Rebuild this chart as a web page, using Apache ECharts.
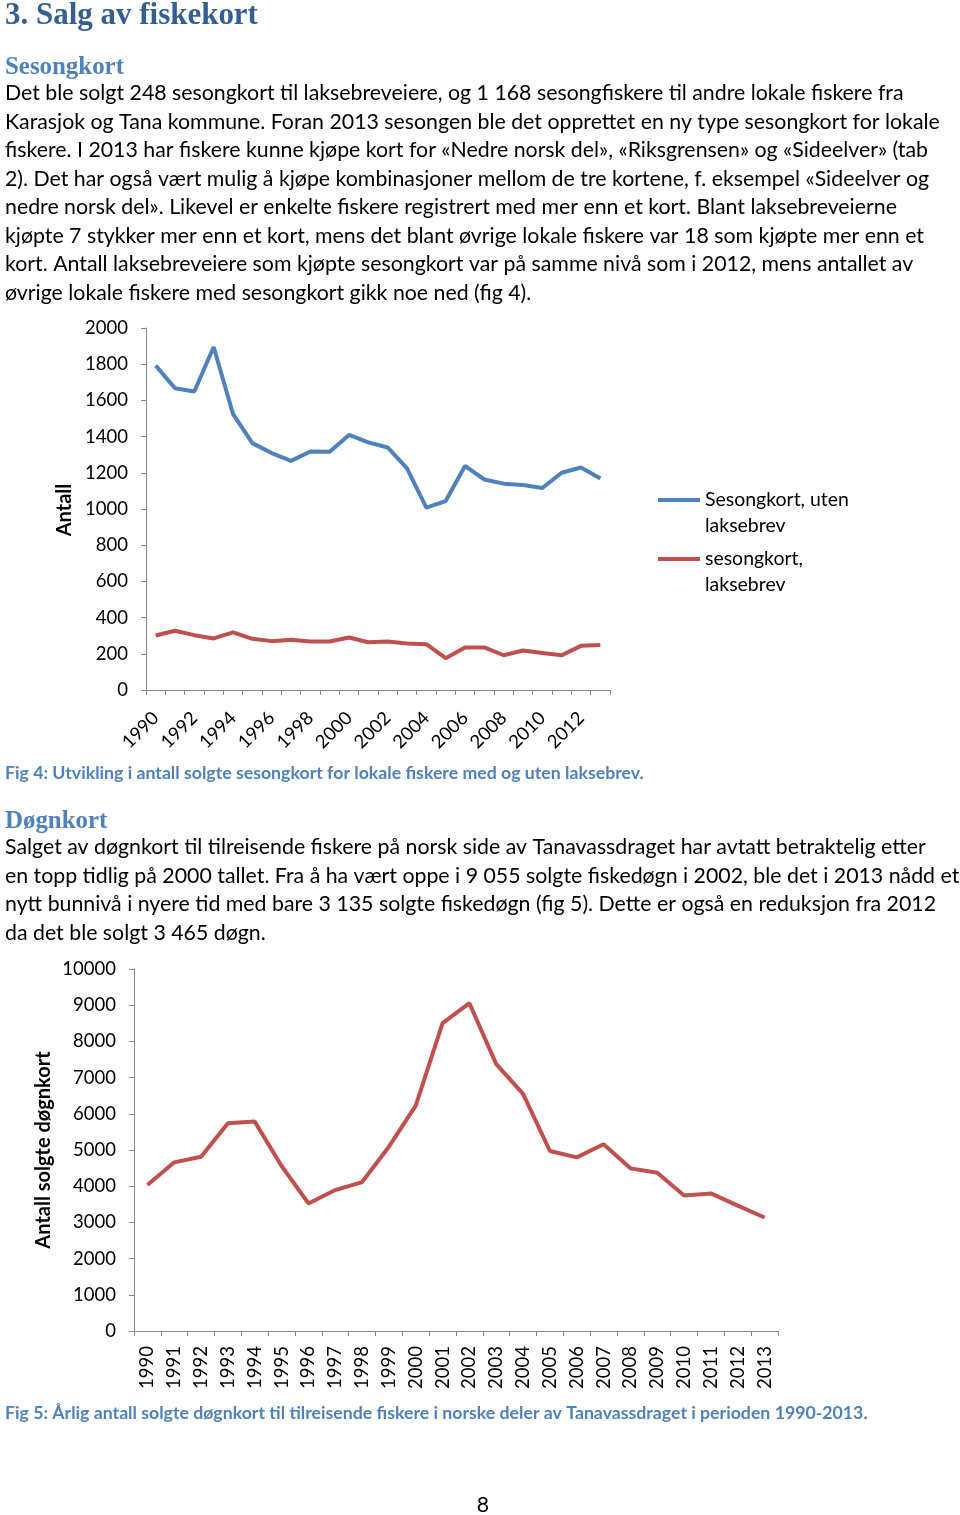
<!DOCTYPE html>
<html><head><meta charset="utf-8">
<script src="https://cdn.jsdelivr.net/npm/echarts@6/dist/echarts.min.js"></script>
<style>html,body{margin:0;padding:0;background:#fff}#c{width:960px;height:1515px}</style>
</head><body><div id="c"></div>
<script>
// ---------- data ----------
const years = ['1990','1991','1992','1993','1994','1995','1996','1997','1998','1999','2000','2001',
  '2002','2003','2004','2005','2006','2007','2008','2009','2010','2011','2012','2013'];
const utenLaksebrev = [1793,1667,1649,1895,1525,1364,1309,1266,1318,1316,1409,1368,
  1340,1224,1007,1044,1238,1163,1140,1133,1116,1200,1229,1168];
const medLaksebrev = [301,327,303,285,318,283,270,277,268,268,290,264,
  268,257,253,176,235,235,192,218,205,192,244,248];
const dognkort = [4031,4659,4815,5738,5784,4557,3524,3893,4114,5092,6227,8506,
  9055,7371,6550,4972,4797,5157,4493,4373,3745,3801,3465,3135];
const seriesNames = ['Sesongkort, uten\nlaksebrev', 'sesongkort,\nlaksebrev'];
const axisTitle1 = 'Antall';
const axisTitle2 = 'Antall solgte døgnkort';

const heading = '3. Salg av fiskekort';
const sub1 = 'Sesongkort';
const body1 = [
 'Det ble solgt 248 sesongkort til laksebreveiere, og 1 168 sesongfiskere til andre lokale fiskere fra',
 'Karasjok og Tana kommune. Foran 2013 sesongen ble det opprettet en ny type sesongkort for lokale',
 'fiskere. I 2013 har fiskere kunne kjøpe kort for «Nedre norsk del», «Riksgrensen» og «Sideelver» (tab',
 '2). Det har også vært mulig å kjøpe kombinasjoner mellom de tre kortene, f. eksempel «Sideelver og',
 'nedre norsk del». Likevel er enkelte fiskere registrert med mer enn et kort. Blant laksebreveierne',
 'kjøpte 7 stykker mer enn et kort, mens det blant øvrige lokale fiskere var 18 som kjøpte mer enn et',
 'kort. Antall laksebreveiere som kjøpte sesongkort var på samme nivå som i 2012, mens antallet av',
 'øvrige lokale fiskere med sesongkort gikk noe ned (fig 4).'
];
const caption1 = 'Fig 4: Utvikling i antall solgte sesongkort for lokale fiskere med og uten laksebrev.';
const sub2 = 'Døgnkort';
const body2 = [
 'Salget av døgnkort til tilreisende fiskere på norsk side av Tanavassdraget har avtatt betraktelig etter',
 'en topp tidlig på 2000 tallet. Fra å ha vært oppe i 9 055 solgte fiskedøgn i 2002, ble det i 2013 nådd et',
 'nytt bunnivå i nyere tid med bare 3 135 solgte fiskedøgn (fig 5). Dette er også en reduksjon fra 2012',
 'da det ble solgt 3 465 døgn.'
];
const caption2 = 'Fig 5: Årlig antall solgte døgnkort til tilreisende fiskere i norske deler av Tanavassdraget i perioden 1990-2013.';
const pageNo = '8';

// ---------- layout helpers ----------
const SANS = 'Lato';
const SERIF = '"Liberation Serif"';
const mctx = document.createElement('canvas').getContext('2d');
function fitSize(text, family, weight, target) {
  mctx.font = weight + ' 100px ' + family;
  return 100 * target / mctx.measureText(text).width;
}
const bodySize = fitSize(body2[1], SANS, 'normal', 955);
const capSize = fitSize(caption2, SANS, 'bold', 863);
const headSize = fitSize(heading, SERIF, 'bold', 253);
const subSize = fitSize(sub1, SERIF, 'bold', 119);
const legSize = fitSize('Sesongkort, uten', SANS, 'normal', 144);

const BLUE_DARK = '#365F91', BLUE = '#4F81BD', RED = '#C0504D', AX = '#868686';

function txt(text, x, y, font, fill, align) {
  return {type:'text', x:x, y:y, silent:true,
    style:{text:text, font:font, fill:fill, align:align||'left', verticalAlign:'middle'}};
}
const graphics = [];
graphics.push(txt(heading, 5, 16, 'bold ' + headSize + 'px ' + SERIF, BLUE_DARK));
graphics.push(txt(sub1, 5, 68, 'bold ' + subSize + 'px ' + SERIF, BLUE));
body1.forEach((l,i)=>graphics.push(txt(l, 5, 93.5 + 28.5*i, bodySize + 'px ' + SANS, '#000')));
graphics.push(txt(caption1, 5, 773, 'bold ' + capSize + 'px ' + SANS, BLUE));
graphics.push(txt(sub2, 5, 822, 'bold ' + subSize + 'px ' + SERIF, BLUE));
body2.forEach((l,i)=>graphics.push(txt(l, 5, 847.5 + 28.5*i, bodySize + 'px ' + SANS, '#000')));
graphics.push(txt(caption2, 5, 1413, 'bold ' + capSize + 'px ' + SANS, BLUE));
graphics.push(txt(pageNo, 483, 1505, bodySize + 'px ' + SANS, '#000', 'center'));
graphics.push({type:'text', x:65, y:510, rotation:Math.PI/2, silent:true,
  style:{text:axisTitle1, font:'bold 20px ' + SANS, fill:'#000', align:'center', verticalAlign:'middle'}});
graphics.push({type:'text', x:44, y:1150, rotation:Math.PI/2, silent:true,
  style:{text:axisTitle2, font:'bold 20px ' + SANS, fill:'#000', align:'center', verticalAlign:'middle'}});

const labelStyle = {color:'#000', fontFamily:SANS, fontSize:18.5};
const axisLine = {show:true, lineStyle:{color:AX, width:1}};
const plain = v => String(v);

const legendCommon = {left:658, padding:0, itemWidth:42, itemHeight:4, icon:'rect',
  formatter: n => '\n' + n,
  textStyle:{color:'#000', fontFamily:SANS, fontSize:legSize, lineHeight:26}};

const chart = echarts.init(document.getElementById('c'), null, {renderer:'canvas'});
chart.setOption({
  backgroundColor:'#fff',
  animation:false,
  graphic: graphics,
  grid:[
    {left:146, top:328, width:464, height:362},
    {left:134, top:969, width:644, height:362}
  ],
  legend:[
    Object.assign({data:[seriesNames[0]], top:461}, legendCommon),
    Object.assign({data:[seriesNames[1]], top:520}, legendCommon)
  ],
  xAxis:[
    {type:'category', gridIndex:0, data:years, boundaryGap:true, axisLine:axisLine,
     axisTick:{show:true, interval:0, length:5, lineStyle:{color:AX}},
     axisLabel:Object.assign({}, labelStyle, {interval:1, rotate:45, margin:25})},
    {type:'category', gridIndex:1, data:years, boundaryGap:true, axisLine:axisLine,
     axisTick:{show:true, interval:0, length:5, lineStyle:{color:AX}},
     axisLabel:Object.assign({}, labelStyle, {interval:0, rotate:90, margin:15})}
  ],
  yAxis:[
    {type:'value', gridIndex:0, min:0, max:2000, interval:200, axisLine:axisLine,
     axisTick:{show:true, length:5, lineStyle:{color:AX}}, splitLine:{show:false},
     axisLabel:Object.assign({}, labelStyle, {margin:18, formatter:plain})},
    {type:'value', gridIndex:1, min:0, max:10000, interval:1000, axisLine:axisLine,
     axisTick:{show:true, length:5, lineStyle:{color:AX}}, splitLine:{show:false},
     axisLabel:Object.assign({}, labelStyle, {margin:18, formatter:plain})}
  ],
  series:[
    {name:seriesNames[0], type:'line', xAxisIndex:0, yAxisIndex:0, data:utenLaksebrev,
     symbol:'none', color:BLUE, lineStyle:{width:4, color:BLUE}},
    {name:seriesNames[1], type:'line', xAxisIndex:0, yAxisIndex:0, data:medLaksebrev,
     symbol:'none', color:RED, lineStyle:{width:4, color:RED}},
    {name:'Døgnkort', type:'line', xAxisIndex:1, yAxisIndex:1, data:dognkort,
     symbol:'none', color:RED, lineStyle:{width:4, color:RED}}
  ]
});
</script></body></html>
